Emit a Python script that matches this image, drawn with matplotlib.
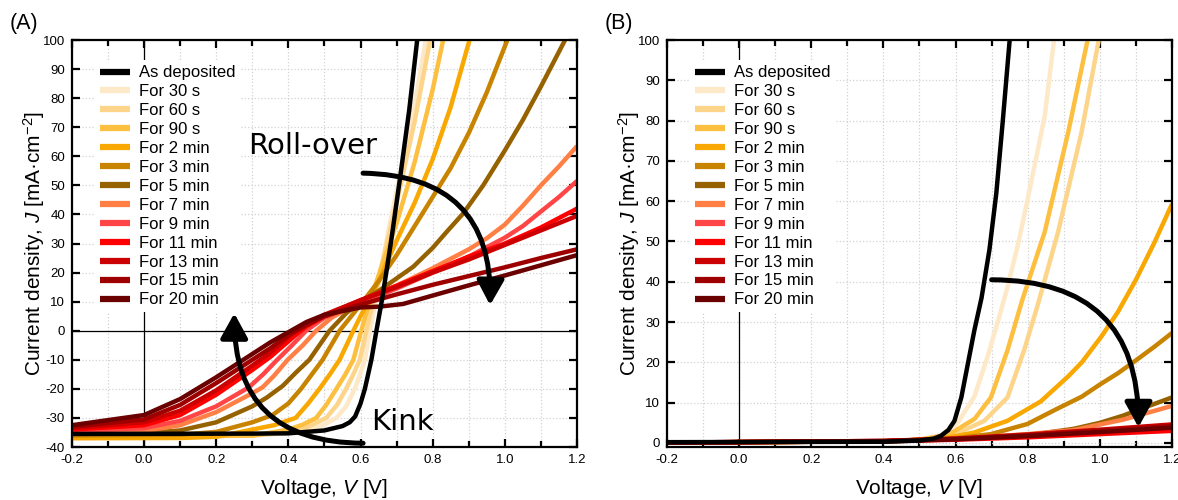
import numpy as np
import matplotlib
matplotlib.use('Agg')
import matplotlib.pyplot as plt
from matplotlib.patches import FancyArrowPatch
from matplotlib.ticker import MultipleLocator, FormatStrFormatter

plt.rcParams['font.family'] = ['Liberation Sans', 'DejaVu Sans']
plt.rcParams['axes.unicode_minus'] = False
plt.rcParams['mathtext.fontset'] = 'custom'
plt.rcParams['mathtext.rm'] = 'Liberation Sans'
plt.rcParams['mathtext.it'] = 'Liberation Sans:italic'

labels = ['As deposited', 'For 30 s', 'For 60 s', 'For 90 s', 'For 2 min', 'For 3 min',
          'For 5 min', 'For 7 min', 'For 9 min', 'For 11 min', 'For 13 min',
          'For 15 min', 'For 20 min']
colors = ['#000000', '#FDE8C8', '#FDD58A', '#FDBF40', '#F8A800', '#C88400',
          '#966200', '#FF7F45', '#FF4545', '#FF0000', '#CC0000', '#9E0000', '#6A0000']

# panel (A): (V, J) points
a_dep = [(-0.2, -35.5), (0.3, -35.4), (0.4, -35.3), (0.5, -34.3), (0.55, -32.8), (0.57, -31.5),
         (0.585, -29.5), (0.6, -25), (0.612, -20), (0.63, -10), (0.644, 0), (0.66, 11),
         (0.685, 31), (0.71, 53), (0.735, 76), (0.757, 100)]
a_30s = [(-0.2, -36.2), (0.3, -36), (0.4, -35.3), (0.45, -34.3), (0.5, -32.3), (0.533, -30),
         (0.56, -26), (0.584, -20), (0.6, -14.5), (0.612, -10), (0.626, 0), (0.65, 16),
         (0.675, 33), (0.7, 48), (0.75, 78), (0.781, 100)]
a_60s = [(-0.2, -36.4), (0.3, -36.1), (0.4, -34.8), (0.45, -33.3), (0.505, -30), (0.535, -25.5),
         (0.56, -20), (0.58, -15), (0.598, -10), (0.616, 0), (0.64, 13), (0.675, 31),
         (0.7, 44), (0.75, 72), (0.793, 100)]
a_90s = [(-0.2, -36.6), (0.3, -36.1), (0.4, -34), (0.44, -32.3), (0.477, -30), (0.505, -25.5),
         (0.533, -20), (0.558, -15), (0.58, -10), (0.602, 0), (0.625, 10), (0.65, 19),
         (0.7, 37), (0.75, 58), (0.8, 83), (0.829, 100)]
a_2min = [(-0.2, -37), (0.1, -36.9), (0.2, -36.5), (0.3, -34), (0.36, -32.5), (0.42, -30),
          (0.455, -25), (0.486, -20), (0.515, -15), (0.542, -10), (0.58, 0), (0.6, 5),
          (0.65, 17), (0.7, 31), (0.75, 44), (0.8, 59), (0.85, 77), (0.902, 100)]
a_3min = [(-0.2, -36), (0.1, -35.8), (0.2, -34.8), (0.3, -31.5), (0.356, -29), (0.4, -25),
          (0.435, -20), (0.465, -15), (0.495, -10), (0.542, 0), (0.6, 9), (0.65, 17),
          (0.7, 26), (0.75, 36), (0.8, 46), (0.85, 56), (0.9, 68), (0.95, 82), (1.007, 100)]
a_5min = [(-0.2, -35.5), (0.0, -35.2), (0.1, -34.3), (0.2, -31.5), (0.3, -26), (0.34, -23),
          (0.384, -19), (0.42, -14.5), (0.458, -10), (0.514, 0), (0.56, 6), (0.6, 10),
          (0.654, 14), (0.7, 18), (0.746, 22), (0.8, 28.5), (0.843, 34.6), (0.885, 40.4),
          (0.94, 50), (1.0, 62), (1.05, 72.5), (1.1, 84), (1.167, 100)]
a_7min = [(-0.2, -35), (0.0, -34.5), (0.1, -32.5), (0.2, -28), (0.3, -21.5), (0.328, -19.5),
          (0.36, -15.5), (0.398, -10), (0.44, -5), (0.477, 0), (0.52, 4.5), (0.6, 10),
          (0.7, 15.5), (0.8, 21.5), (0.9, 28), (0.95, 31.8), (1.0, 36.5), (1.05, 43),
          (1.1, 50), (1.15, 56.5), (1.2, 63.5)]
a_9min = [(-0.2, -34.5), (0.0, -33.5), (0.1, -31), (0.2, -26), (0.29, -19.5), (0.33, -15),
          (0.365, -10.5), (0.41, -5), (0.449, 0), (0.5, 4.5), (0.6, 9.5), (0.7, 14.5),
          (0.8, 20), (0.9, 25.5), (1.0, 32), (1.05, 36), (1.1, 41), (1.15, 46), (1.2, 51.5)]
a_11min = [(-0.2, -34), (0.0, -32.5), (0.1, -29), (0.2, -22), (0.3, -13.5), (0.35, -9),
           (0.42, -1.5), (0.45, 1.5), (0.5, 5), (0.6, 10.5), (0.7, 15.5), (0.8, 20.5),
           (0.9, 25.5), (1.0, 30), (1.1, 35.5), (1.2, 42)]
a_13min = [(-0.2, -33.5), (0.0, -31.5), (0.1, -27.5), (0.2, -20.5), (0.3, -12), (0.35, -7.5),
           (0.41, -1), (0.45, 2), (0.5, 5.5), (0.6, 10.5), (0.7, 15), (0.8, 20), (0.9, 24.5),
           (1.0, 29.5), (1.1, 34.5), (1.2, 39.5)]
a_15min = [(-0.2, -33), (0.0, -30.5), (0.1, -25.5), (0.2, -18), (0.3, -10), (0.35, -6),
           (0.4, -1.5), (0.45, 2), (0.5, 5), (0.6, 9), (0.7, 12.5), (0.8, 15.8), (0.9, 18.8),
           (1.0, 21.8), (1.1, 25), (1.2, 28)]
a_20min = [(-0.2, -32.5), (0.0, -29), (0.1, -23.5), (0.2, -16), (0.3, -8), (0.35, -4),
           (0.4, -0.5), (0.45, 3), (0.5, 5.5), (0.6, 8), (0.654, 8.3), (0.718, 9.2),
           (0.8, 12.1), (0.9, 15.6), (1.0, 19), (1.1, 22.5), (1.2, 26)]

# panel (B)
b_dep = [(-0.2, 0.2), (0.4, 0.3), (0.5, 0.6), (0.54, 1.1), (0.56, 1.8), (0.58, 3.2),
         (0.597, 5.5), (0.616, 11.3), (0.634, 19.6), (0.652, 27.9), (0.672, 36), (0.694, 48),
         (0.713, 62), (0.731, 80), (0.75, 100)]
b_30s = [(-0.2, 0.1), (0.4, 0.4), (0.5, 0.9), (0.56, 2), (0.606, 5), (0.652, 11.5),
         (0.689, 21.5), (0.72, 31), (0.745, 39), (0.775, 50), (0.801, 61), (0.847, 81),
         (0.873, 100)]
b_60s = [(-0.2, 0.1), (0.4, 0.4), (0.5, 0.8), (0.59, 1.8), (0.68, 5.5), (0.744, 11.3),
         (0.79, 23), (0.827, 34), (0.884, 52.3), (0.949, 77), (0.997, 100)]
b_90s = [(-0.2, 0.1), (0.4, 0.4), (0.5, 0.8), (0.58, 2), (0.653, 6), (0.698, 11.3),
         (0.744, 23), (0.785, 35.5), (0.847, 52.3), (0.912, 77), (0.966, 100)]
b_2min = [(-0.2, 0.1), (0.4, 0.4), (0.56, 1), (0.652, 2.6), (0.744, 5.5), (0.836, 10.3),
          (0.912, 16.5), (0.95, 20), (1.005, 26.5), (1.05, 32.5), (1.1, 40.5), (1.15, 49.5),
          (1.2, 59.3)]
b_3min = [(-0.2, 0.1), (0.4, 0.4), (0.6, 1.2), (0.698, 2.2), (0.799, 4.7), (0.882, 8.5),
          (0.95, 11.5), (1.0, 14.5), (1.05, 17.3), (1.1, 20.5), (1.15, 23.8), (1.2, 27.3)]
b_5min = [(-0.2, 0.1), (0.4, 0.4), (0.6, 1), (0.79, 1.8), (0.927, 3.5), (1.0, 5),
          (1.065, 6.8), (1.13, 9), (1.2, 11.3)]
b_7min = [(-0.2, 0.1), (0.4, 0.4), (0.6, 1), (0.8, 2.2), (0.927, 3.2), (1.065, 5.8), (1.2, 9.2)]
b_9min = [(-0.2, 0.1), (0.4, 0.5), (0.6, 1), (0.8, 1.8), (1.0, 2.8), (1.2, 3.8)]
b_11min = [(-0.2, 0.1), (0.4, 0.4), (0.6, 0.8), (0.8, 1.4), (1.0, 2.2), (1.2, 3.0)]
b_13min = [(-0.2, 0.1), (0.4, 0.5), (0.6, 1.1), (0.8, 2.1), (1.0, 3.3), (1.2, 4.6)]
b_15min = [(-0.2, 0.1), (0.4, 0.5), (0.6, 1), (0.8, 1.9), (1.0, 3), (1.2, 4.2)]
b_20min = [(-0.2, 0.1), (0.4, 0.4), (0.6, 0.9), (0.8, 1.7), (1.0, 2.7), (1.2, 3.8)]

curves_a = [a_dep, a_30s, a_60s, a_90s, a_2min, a_3min, a_5min, a_7min, a_9min,
            a_11min, a_13min, a_15min, a_20min]
curves_b = [b_dep, b_30s, b_60s, b_90s, b_2min, b_3min, b_5min, b_7min, b_9min,
            b_11min, b_13min, b_15min, b_20min]

fig = plt.figure(figsize=(11.78, 5.0), dpi=100)
axA = fig.add_axes([0.0611, 0.106, 0.4287, 0.814])
axB = fig.add_axes([0.5662, 0.106, 0.4287, 0.814])


def setup(ax, ymin):
    ax.set_xlim(-0.2, 1.2)
    ax.set_ylim(ymin, 100)
    ax.xaxis.set_major_locator(MultipleLocator(0.2))
    ax.xaxis.set_minor_locator(MultipleLocator(0.1))
    ax.xaxis.set_major_formatter(FormatStrFormatter('%.1f'))
    ax.yaxis.set_major_locator(MultipleLocator(10))
    ax.grid(True, which='both', color='#d2d2d2', linestyle=':', linewidth=0.9, zorder=0)
    ax.set_axisbelow(True)
    ax.tick_params(which='both', direction='in', top=True, right=True, width=1.6,
                   labelsize=9.5, colors='black')
    ax.tick_params(which='major', length=6, pad=5)
    ax.tick_params(which='minor', length=4)
    for s in ax.spines.values():
        s.set_linewidth(1.6)
    ax.axvline(0, color='black', lw=0.9, zorder=1)
    ax.set_xlabel('Voltage, $\\mathit{V}$ [V]', fontsize=15, labelpad=8)
    ax.set_ylabel('Current density, $\\mathit{J}$ [mA·cm$^{-2}$]', fontsize=15, labelpad=-3)


def draw(ax, curves):
    handles = []
    for k, pts in enumerate(curves):
        pts = np.array(pts)
        z = 4 if k == 0 else 2
        ln, = ax.plot(pts[:, 0], pts[:, 1], color=colors[k], lw=3.2, label=labels[k],
                      zorder=z, solid_capstyle='butt', solid_joinstyle='round')
        handles.append(ln)
    leg = ax.legend(handles=handles, loc='upper left', bbox_to_anchor=(0.045, 0.95),
                    fontsize=12, frameon=True, framealpha=1, edgecolor='none',
                    fancybox=False, handlelength=1.8, handletextpad=0.55, labelspacing=0.235,
                    borderpad=0.3, borderaxespad=0)
    leg.set_zorder(6)
    for h in leg.get_lines():
        h.set_linewidth(4.5)


def curved_arrow(ax, start, end):
    arr = FancyArrowPatch(start, end, connectionstyle='arc3,rad=-0.5',
                          arrowstyle='-|>,head_length=1.0,head_width=0.55',
                          mutation_scale=15, lw=3.6, color='black',
                          shrinkA=0, shrinkB=0, zorder=5)
    ax.add_patch(arr)


setup(axA, -40)
axA.axhline(0, color='black', lw=0.9, zorder=1)
draw(axA, curves_a)
curved_arrow(axA, (0.607, 54.2), (0.959, 8.8))
curved_arrow(axA, (0.607, -38.7), (0.25, 6.0))
axA.text(0.468, 63.5, 'Roll-over', fontsize=21, family='DejaVu Sans', ha='center',
         va='center', zorder=5)
axA.text(0.715, -31.4, 'Kink', fontsize=21, family='DejaVu Sans', ha='center',
         va='center', zorder=5)

setup(axB, -1)
draw(axB, curves_b)
curved_arrow(axB, (0.7, 40.5), (1.107, 3.9))

fig.text(10 / 1178, 1 - 24 / 500, '(A)', fontsize=15.5, va='center', ha='left')
fig.text(605 / 1178, 1 - 24 / 500, '(B)', fontsize=15.5, va='center', ha='left')

fig.savefig('out.png', dpi=100)
